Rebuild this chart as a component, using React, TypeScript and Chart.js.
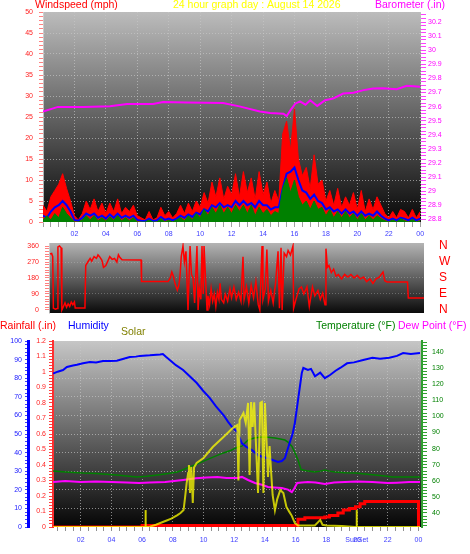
import React, { useEffect, useRef } from 'react';
import { Chart, registerables } from 'chart.js';

Chart.register(...registerables);

const FONT = '"Liberation Sans", Arial, Helvetica, sans-serif';

// ---------- texts ----------
const TITLE_WIND = 'Windspeed (mph)';
const TITLE_MAIN = '24 hour graph day : August 14 2026';
const TITLE_BARO = 'Barometer (.in)';
const LBL_RAIN = 'Rainfall (.in)';
const LBL_HUM = 'Humidity';
const LBL_SOLAR = 'Solar';
const LBL_TEMP = 'Temperature (°F)';
const LBL_DEW = 'Dew Point (°F)';
const LBL_SUNSET = 'SunSet';
const COMPASS = ['N', 'E', 'S', 'W', 'N']; // 0, 90, 180, 270, 360

// ---------- panel 1: wind (15 minute samples, 00:00 .. 24:00) ----------
const windTimes = Array.from({ length: 97 }, (_, i) => i * 0.25);
const windGust = [
  4, 2.5, 6, 7.5, 9, 11.5, 8, 5, 1.5, 0.5, 2, 5, 3, 5.5, 2.5, 4.5,
  2, 4.5, 2.5, 5.5, 2, 3.5, 2.5, 4, 1.5, 1, 0.5, 2.5, 0.5, 1, 3.5, 1.5,
  2.5, 1, 2, 4, 2, 4.5, 2.5, 5, 3.5, 7, 4.5, 9.5, 6, 10.5, 5.5, 8.5,
  6.5, 11.5, 6, 12, 7, 10.5, 5.5, 12, 6.5, 9.5, 4.5, 7.5, 5, 21, 24, 17,
  27, 15, 11, 13, 8, 16, 9, 10, 5, 7.5, 4, 8, 3.5, 6, 4, 7,
  3, 7.5, 2.5, 5.5, 3, 6, 4, 2, 1, 2.5, 1, 3, 2.5, 1, 3, 1,
  2.5,
];
const windAvg = [
  1.5, 1, 2.5, 3.5, 4, 5, 4, 2.5, 0.5, 0.3, 1, 2, 1.5, 2, 1, 1.5,
  0.8, 1.8, 1, 2, 1, 1.5, 1, 1.5, 0.5, 0.3, 0.2, 0.8, 0.2, 0.4, 1.2, 0.5,
  0.8, 0.4, 0.8, 1.5, 1, 1.8, 1.2, 2.2, 1.8, 3, 2.5, 4, 3.5, 4.5, 3.5, 4,
  3.5, 5, 4, 5, 4, 4.5, 3.5, 5, 4, 4, 3, 3.5, 3.5, 8, 11.5, 12,
  13, 10, 7.5, 7, 5.5, 6.5, 5, 4.5, 3, 3.5, 2.5, 3, 2, 3, 2, 2.5,
  1.5, 2.5, 1.5, 2, 1.5, 2.5, 1.5, 0.8, 0.4, 0.8, 0.4, 1, 0.8, 0.4, 1, 0.4,
  0.8,
];
const windLow = [
  0.5, 1.5, 0.5, 2, 1, 3.5, 2, 1, 0, 0, 0.5, 1.5, 0.5, 1.5, 0.3, 1,
  0.2, 1.2, 0.4, 1.5, 0.3, 1, 0.3, 1, 0, 0, 0, 0.5, 0, 0, 0.8, 0,
  0.4, 0, 0.5, 1, 0.3, 1.5, 0.5, 2, 1, 3, 1.5, 3.5, 2, 4, 2, 3.5,
  2, 4, 2.5, 4, 2, 4, 1.5, 3.5, 2, 3, 1.5, 2.5, 2, 8, 10.5, 7,
  10, 6, 4, 5, 3, 5, 3, 3.5, 1.5, 3, 1, 2.5, 1, 2.5, 1, 2,
  0.5, 2, 0.5, 1.5, 0.5, 1.5, 0.8, 0.3, 0, 0.5, 0, 0.8, 0.3, 0, 0.6, 0,
  0.3,
];
const baroTimes = [0, 0.95, 2.55, 4.26, 5.35, 7.0, 7.64, 9.15, 11.46, 12.5, 13.8, 14.45, 15.3, 15.5, 15.75, 16.05, 16.35, 16.7, 17.0, 17.45, 17.95, 18.45, 19.1, 19.75, 20.4, 21.0, 21.65, 22.5, 23.15, 24.0];
const baroValues = [29.566, 29.598, 29.598, 29.602, 29.619, 29.619, 29.633, 29.63, 29.626, 29.602, 29.566, 29.555, 29.55, 29.533, 29.575, 29.621, 29.638, 29.614, 29.645, 29.605, 29.645, 29.657, 29.693, 29.698, 29.717, 29.729, 29.73, 29.724, 29.748, 29.741];

// ---------- panel 2: wind direction [hour, degrees] ----------
const windDirReadings: [number, number][] = [
  [0.45, 315], [0.55, 318], [0.62, 300], [0.66, 10], [0.8, 5], [0.9, 8], [0.95, 355], [1.05, 360], [1.15, 350], [1.2, 0],
  [1.3, 20], [1.4, 40], [1.5, 15], [1.6, 35], [1.7, 20], [1.8, 45], [1.9, 30], [2.0, 45], [2.05, 11], [2.67, 11],
  [2.72, 250], [2.85, 270], [3.0, 290], [3.1, 275], [3.25, 300], [3.4, 290], [3.5, 310], [3.6, 300], [3.75, 280], [3.85, 240],
  [4.0, 250], [4.1, 270], [4.25, 300], [4.4, 285], [4.55, 290], [4.7, 270], [4.8, 310], [4.9, 295], [5.03, 282], [6.24, 281],
  [6.27, 160], [7.96, 160], [8.1, 180], [8.2, 214], [8.3, 190], [8.4, 150], [8.55, 112], [8.65, 140], [8.72, 190], [8.8, 300],
  [8.91, 360], [9.0, 270], [9.1, 330], [9.23, 0], [9.36, 360], [9.45, 200], [9.55, 180], [9.65, 40], [9.8, 360], [9.87, 0],
  [9.95, 120], [10.05, 60], [10.12, 360], [10.2, 90], [10.25, 360], [10.44, 0], [10.5, 80], [10.6, 30], [10.7, 120], [10.8, 50],
  [10.9, 90], [11.0, 20], [11.1, 100], [11.2, 60], [11.27, 150], [11.35, 60], [11.5, 40], [11.6, 90], [11.75, 50], [11.9, 120],
  [12.0, 70], [12.15, 130], [12.3, 60], [12.45, 100], [12.6, 50], [12.73, 300], [12.8, 60], [12.95, 130], [13.1, 40], [13.25, 140],
  [13.4, 70], [13.55, 160], [13.7, 30], [13.8, 0], [13.94, 360], [14.0, 60], [14.15, 120], [14.25, 340], [14.35, 50], [14.5, 110],
  [14.65, 40], [14.8, 150], [14.96, 330], [15.05, 10], [15.15, 350], [15.22, 0], [15.35, 320], [15.5, 300], [15.6, 335], [15.75, 310],
  [15.91, 360], [15.95, 10], [16.1, 60], [16.3, 120], [16.45, 130], [16.6, 90], [16.8, 130], [16.95, 20], [17.15, 130], [17.3, 80],
  [17.5, 110], [17.65, 60], [17.8, 95], [17.95, 30], [18.01, 345], [18.1, 240], [18.2, 250], [18.35, 210], [18.5, 230], [18.65, 190],
  [18.8, 200], [19.0, 175], [19.2, 200], [19.4, 185], [19.6, 200], [19.8, 180], [20.0, 195], [20.2, 175], [20.4, 185], [20.6, 160],
  [20.8, 175], [21.0, 150], [21.2, 175], [21.4, 185], [21.64, 214], [21.75, 165], [21.9, 158], [23.2, 158], [23.25, 68], [24.25, 68],
];

// ---------- panel 3: [hour, value] ----------
const humidityReadings: [number, number][] = [
  [0.2, 82.5], [0.5, 83.5], [0.85, 84.4], [1.1, 86], [1.5, 86.8], [1.75, 87.2], [2.15, 88], [2.6, 88.7], [3.0, 88.4], [3.45, 89.2],
  [3.9, 89.2], [4.35, 89.4], [4.8, 90.5], [5.2, 91.4], [5.6, 91.6], [5.86, 92], [6.5, 92.3], [7.17, 92.8], [7.35, 93], [7.55, 91.5],
  [7.8, 89.8], [8.2, 87], [8.67, 84.4], [9.1, 81], [9.56, 77.4], [10.0, 73], [10.4, 69.4], [10.8, 65], [11.3, 60.2], [11.6, 56.5],
  [11.85, 53.8], [12.2, 51], [12.5, 45], [12.8, 43], [13.15, 41.4], [13.55, 38.7], [13.9, 37.5], [14.2, 37], [14.5, 36], [14.85, 35],
  [15.1, 35.5], [15.3, 37], [15.45, 41], [15.6, 45], [15.8, 50], [15.95, 56], [16.15, 68], [16.4, 82.8], [16.5, 85.5], [16.8, 84.4],
  [17.0, 85], [17.26, 81], [17.6, 83], [17.9, 80], [18.24, 81.7], [18.6, 84], [18.9, 85.5], [19.35, 88], [19.8, 88.5], [20.4, 89.8],
  [21.0, 91], [21.5, 90.5], [22.1, 91], [22.6, 92], [23.0, 93.5], [23.5, 93], [24.1, 93.5],
];
const temperatureReadings: [number, number][] = [
  [0.2, 66], [1.0, 65.5], [2.15, 64.8], [3.0, 64.5], [4.35, 63.6], [5.0, 63], [5.65, 62.4], [6.3, 62.8], [7.0, 63.6], [7.7, 64.5],
  [8.3, 65.5], [8.7, 67], [9.1, 68.6], [9.6, 70.5], [10.2, 73], [10.7, 75], [11.3, 77.3], [11.8, 79], [12.25, 81], [12.5, 81.5],
  [12.7, 83.5], [12.9, 85.3], [13.3, 86.5], [13.8, 87.2], [14.2, 87], [14.65, 86.6], [15.0, 86], [15.3, 85.3], [15.5, 84], [15.75, 81.5],
  [15.95, 77.5], [16.15, 73], [16.35, 67], [16.8, 66], [17.25, 65.5], [17.6, 66], [17.9, 66.7], [18.2, 66], [18.55, 65.5], [19.2, 65],
  [19.9, 64.8], [20.5, 64.2], [21.2, 63.6], [21.8, 63], [22.3, 62.4], [23.2, 62.4], [24.1, 62.4],
];
const dewPointReadings: [number, number][] = [
  [0.2, 59.3], [1.0, 59.8], [2.0, 59.3], [3.0, 59.6], [4.0, 59.3], [5.0, 59], [5.8, 58.6], [6.5, 59], [7.5, 59.3], [8.67, 60.5],
  [9.5, 61.5], [10.2, 62], [10.9, 62.4], [11.5, 61.8], [12.2, 61.7], [12.5, 62.4], [12.9, 60.5], [13.35, 58.6], [13.8, 57.5], [14.2, 56.1],
  [14.6, 55.8], [15.1, 55.5], [15.5, 54.5], [15.75, 53], [15.9, 55], [16.1, 58.6], [16.4, 59], [16.8, 59.3], [17.3, 59], [17.9, 58],
  [18.5, 59], [19.2, 59.3], [20.0, 59.5], [21.0, 59.2], [22.0, 58.6], [22.6, 58.8], [23.4, 59.2], [24.1, 59.3],
];
// cumulative rainfall: each reading is the total from that hour on
const rainReadings: [number, number][] = [
  [0.2, 0], [6.0, 0.01], [16.15, 0.05], [16.6, 0.06], [17.9, 0.065], [18.2, 0.075], [18.75, 0.09], [19.1, 0.11],
  [19.5, 0.12], [19.9, 0.13], [20.2, 0.15], [20.5, 0.165], [24.0, 0],
];
const solarReadings: [number, number][] = [
  [0.2, 0], [6.3, 0], [6.5, 2], [6.9, 12], [7.35, 27], [7.6, 35], [7.9, 45], [8.3, 64], [8.5, 75], [8.7, 91],
  [8.8, 161], [8.9, 236], [9.0, 290], [9.05, 333], [9.12, 183], [9.2, 323], [9.3, 129], [9.38, 320], [9.55, 344], [10.0, 371],
  [10.6, 430], [11.3, 484], [11.9, 532], [12.2, 548], [12.27, 250], [12.35, 575], [12.6, 613], [12.75, 560], [12.9, 667], [13.0, 280],
  [13.1, 672], [13.2, 538], [13.3, 670], [13.55, 183], [13.7, 667], [13.8, 672], [13.9, 183], [14.0, 667], [14.1, 468], [14.2, 269],
  [14.3, 435], [14.4, 300], [14.5, 172], [14.65, 90], [14.8, 150], [15.0, 199], [15.2, 183], [15.4, 108], [15.6, 80], [15.75, 60],
  [15.95, 21], [16.15, 8], [17.25, 8], [17.45, 25], [17.6, 38], [17.75, 12], [18.0, 8], [19.0, 5], [19.9, 0], [24.1, 0],
];
const sunriseTime = 6.23;
const sunsetTime = 19.98;
const sunMarkerHeight = 91; // in solar units

// ---------- helpers ----------
const GRID = 'rgba(200,200,200,0.65)';
const NONE = 'rgba(0,0,0,0)';
function steps(from: number, to: number, step: number): number[] {
  const out: number[] = [];
  const n = Math.round((to - from) / step);
  for (let i = 0; i <= n; i++) out.push(+(from + i * step).toFixed(4));
  return out;
}
const near = (v: number, m: number) => Math.abs(v / m - Math.round(v / m)) < 1e-6;
const fixTicks = (vals: number[]) => (s: any) => {
  s.ticks = vals.map((v) => ({ value: v }));
};
const fixSize = (w?: number, h?: number) => (s: any) => {
  if (w !== undefined) s.width = w;
  if (h !== undefined) s.height = h;
  s.paddingLeft = 0; s.paddingRight = 0; s.paddingTop = 0; s.paddingBottom = 0;
};
const hourLabel = (v: any) => {
  const n = Number(v);
  return near(n, 2) && n > 0.1 ? String(Math.round(n) % 24).padStart(2, '0') : '';
};
const trim1 = (v: number) => String(parseFloat(v.toFixed(1)));
const pairs = (rows: [number, number][]) => rows.map(([x, y]) => ({ x, y }));
const tickFont = { family: FONT, size: 7 };

const gradientBg = (top: string, bottom: string) => ({
  id: 'gradientBg',
  beforeDraw(chart: any) {
    const { ctx, chartArea: a } = chart;
    if (!a) return;
    const g = ctx.createLinearGradient(0, a.top, 0, a.bottom);
    g.addColorStop(0, top);
    g.addColorStop(1, bottom);
    ctx.save();
    ctx.fillStyle = g;
    ctx.fillRect(a.left, a.top, a.right - a.left, a.bottom - a.top);
    ctx.restore();
  },
});

type Txt = { text: string; x: number; y: number; color: string; size: number };
const textPlugin = (items: Txt[]) => ({
  id: 'texts',
  afterDraw(chart: any) {
    const ctx = chart.ctx;
    ctx.save();
    items.forEach((t) => {
      ctx.font = `${t.size}px ${FONT}`;
      ctx.fillStyle = t.color;
      ctx.textAlign = 'left';
      ctx.textBaseline = 'alphabetic';
      ctx.fillText(t.text, t.x, t.y);
    });
    ctx.restore();
  },
});

const baseOptions = {
  animation: false,
  responsive: false,
  devicePixelRatio: 1,
  events: [],
  plugins: { legend: { display: false }, tooltip: { enabled: false }, title: { display: false } },
  elements: { point: { radius: 0 }, line: { tension: 0 } },
};

function windConfig(): any {
  const mk = (vals: number[]) => windTimes.map((t, i) => ({ x: t, y: vals[i] }));
  return {
    type: 'line',
    data: {
      datasets: [
        { data: mk(windLow), borderColor: '#008000', backgroundColor: '#008000', fill: 'origin', borderWidth: 1, yAxisID: 'yWind' },
        { data: mk(windAvg), borderColor: '#0000ff', borderWidth: 2, fill: false, yAxisID: 'yWind' },
        { data: mk(windGust), borderColor: '#ff0000', backgroundColor: '#ff0000', fill: 'origin', borderWidth: 1, yAxisID: 'yWind' },
        { data: baroTimes.map((t, i) => ({ x: t, y: baroValues[i] })), borderColor: '#ff00ff', borderWidth: 2, fill: false, yAxisID: 'yBaro' },
      ],
    },
    options: {
      ...baseOptions,
      layout: { padding: { top: 12, left: 0, right: 0, bottom: 0 } },
      scales: {
        x: {
          type: 'linear', min: 0, max: 24.05,
          afterBuildTicks: fixTicks(steps(0, 24, 0.5)),
          ticks: { autoSkip: false, maxRotation: 0, minRotation: 0, color: '#3c3cff', font: tickFont, padding: 3, callback: hourLabel },
          grid: { color: (c: any) => (c.tick && near(c.tick.value, 2) && c.tick.value > 0.1 ? GRID : NONE), tickColor: '#a0a0a0', tickLength: 5 },
          border: { display: false, dash: [1, 2] },
          afterFit: fixSize(undefined, 18),
        },
        yWind: {
          position: 'left', min: 0, max: 50,
          afterBuildTicks: fixTicks(steps(0, 50, 1)),
          ticks: { autoSkip: false, color: '#ff2020', font: tickFont, padding: 6, callback: (v: any) => (near(Number(v), 5) ? String(v) : '') },
          grid: { color: (c: any) => (c.tick && near(c.tick.value, 5) && c.tick.value > 0 && c.tick.value < 50 ? GRID : NONE), tickColor: '#ff8080', tickLength: 4 },
          border: { display: true, color: 'rgba(210,210,210,0.8)', dash: [1, 2] },
          afterFit: fixSize(43),
        },
        yBaro: {
          position: 'right', min: 28.782, max: 30.271,
          afterBuildTicks: fixTicks(steps(28.8, 30.25, 0.025)),
          ticks: { autoSkip: false, color: '#ff00ff', font: tickFont, padding: 2, callback: (v: any, i: number) => (i % 4 === 0 ? trim1(Number(v)) : '') },
          grid: { drawOnChartArea: false, tickColor: '#ff40ff', tickLength: 5 },
          border: { display: false },
          afterFit: fixSize(49),
        },
      },
    },
    plugins: [
      gradientBg('#bcbcbc', '#080808'),
      textPlugin([
        { text: TITLE_WIND, x: 35, y: 8, color: '#ff0000', size: 10.5 },
        { text: TITLE_MAIN, x: 173, y: 8, color: '#ffff00', size: 10.5 },
        { text: TITLE_BARO, x: 375, y: 8, color: '#ff00ff', size: 10.5 },
      ]),
    ],
  };
}

function dirConfig(): any {
  return {
    type: 'line',
    data: {
      datasets: [
        { data: pairs(windDirReadings), borderColor: '#ff0000', borderWidth: 1.5, fill: false, yAxisID: 'yDir' },
      ],
    },
    options: {
      ...baseOptions,
      layout: { padding: { top: 3, left: 0, right: 0, bottom: 5 } },
      scales: {
        x: { type: 'linear', display: false, min: 0.382, max: 24.25 },
        yDir: {
          position: 'left', min: -16.9, max: 376.9,
          afterBuildTicks: fixTicks(steps(0, 360, 15)),
          ticks: { autoSkip: false, color: '#ff2020', font: tickFont, padding: 6, callback: (v: any) => (near(Number(v), 90) ? String(v) : '') },
          grid: { color: (c: any) => (c.tick && near(c.tick.value, 90) && c.tick.value > 0 && c.tick.value < 360 ? 'rgba(200,200,200,0.35)' : NONE), tickColor: '#ff8080', tickLength: 4 },
          border: { display: true, color: 'rgba(210,210,210,0.8)', dash: [1, 2] },
          afterFit: fixSize(49),
        },
        yCompass: {
          position: 'right', min: -16.9, max: 376.9,
          afterBuildTicks: fixTicks([0, 90, 180, 270, 360]),
          ticks: { autoSkip: false, color: '#ff0000', font: { family: FONT, size: 12 }, padding: 15, callback: (v: any) => COMPASS[Math.round(Number(v) / 90)] },
          grid: { drawOnChartArea: false, drawTicks: false },
          border: { display: false },
          afterFit: fixSize(46),
        },
      },
    },
    plugins: [gradientBg('#b4b4b4', '#0a0a0a')],
  };
}

function weatherConfig(): any {
  const sunLabel = {
    id: 'sunLabel',
    afterDraw(chart: any) {
      const ctx = chart.ctx;
      const xs = chart.scales.x;
      ctx.save();
      ctx.font = `7px ${FONT}`;
      ctx.fillStyle = '#3c3cff';
      ctx.textAlign = 'center';
      ctx.textBaseline = 'middle';
      ctx.fillText(LBL_SUNSET, xs.getPixelForValue(sunsetTime), chart.chartArea.bottom + 13.5);
      const hs = chart.scales.yHum;
      ctx.fillStyle = '#0000ff';
      ctx.fillRect(hs.right - 3, hs.top - 1, 3, hs.bottom - hs.top + 2);
      ctx.restore();
    },
  };
  return {
    type: 'line',
    data: {
      datasets: [
        { data: [{ x: sunriseTime, y: 0 }, { x: sunriseTime, y: sunMarkerHeight }], borderColor: 'rgba(230,230,0,0.9)', borderWidth: 2, yAxisID: 'ySolar' },
        { data: [{ x: sunsetTime, y: 0 }, { x: sunsetTime, y: sunMarkerHeight }], borderColor: 'rgba(230,230,0,0.9)', borderWidth: 2, yAxisID: 'ySolar' },
        { data: pairs(solarReadings), borderColor: 'rgba(255,255,0,0.75)', borderWidth: 2, yAxisID: 'ySolar' },
        { data: pairs(humidityReadings), borderColor: '#0000ff', borderWidth: 2, yAxisID: 'yHum' },
        { data: pairs(temperatureReadings), borderColor: '#008000', borderWidth: 1.5, yAxisID: 'yTemp' },
        { data: pairs(dewPointReadings), borderColor: '#ff00ff', borderWidth: 2, yAxisID: 'yTemp' },
        { data: pairs(rainReadings), borderColor: '#ff0000', borderWidth: 3, stepped: 'before', yAxisID: 'yRain' },
      ],
    },
    options: {
      ...baseOptions,
      layout: { padding: { top: 23, left: 0, right: 0, bottom: 0 } },
      scales: {
        x: {
          type: 'linear', min: 0.195, max: 24.23,
          afterBuildTicks: fixTicks(steps(0.5, 24, 0.5)),
          ticks: { autoSkip: false, maxRotation: 0, minRotation: 0, color: '#3c3cff', font: tickFont, padding: 5, callback: hourLabel },
          grid: { color: (c: any) => (c.tick && near(c.tick.value, 2) ? GRID : NONE), tickColor: '#909090', tickLength: 4 },
          border: { display: false, dash: [1, 2] },
          afterFit: fixSize(undefined, 27),
        },
        yHum: {
          position: 'left', weight: 2, min: 0, max: 100,
          afterBuildTicks: fixTicks(steps(0, 100, 2)),
          ticks: { autoSkip: false, color: '#2020ff', font: tickFont, padding: 3, callback: (v: any) => (near(Number(v), 10) ? String(v) : '') },
          grid: { color: (c: any) => (c.tick && near(c.tick.value, 10) && c.tick.value > 0 && c.tick.value < 100 ? GRID : NONE), tickColor: '#4040ff', tickLength: 5 },
          border: { display: false, dash: [1, 2] },
          afterFit: fixSize(30),
        },
        yRain: {
          position: 'left', weight: 1, min: 0, max: 1.2,
          afterBuildTicks: fixTicks(steps(0, 1.2, 0.02)),
          ticks: { autoSkip: false, color: '#ff2020', font: tickFont, padding: 3, callback: (v: any) => (near(Number(v), 0.1) ? trim1(Number(v)) : '') },
          grid: { drawOnChartArea: false, tickColor: '#ff4040', tickLength: 4 },
          border: { display: true, color: '#ff3030', width: 2, dash: [2, 1] },
          afterFit: fixSize(23),
        },
        yTemp: {
          position: 'right', min: 31.3, max: 146.8,
          afterBuildTicks: fixTicks(steps(32, 146, 2)),
          ticks: { autoSkip: false, color: '#008000', font: tickFont, padding: 5, callback: (v: any) => { const n = Number(v); return near(n, 10) && n >= 40 && n <= 140 ? String(n) : ''; } },
          grid: { drawOnChartArea: false, tickColor: '#30a030', tickLength: 5 },
          border: { display: true, color: '#30a030', width: 2, dash: [2, 2] },
          afterFit: fixSize(48),
        },
        ySolar: { display: false, min: 0, max: 1000 },
      },
    },
    plugins: [
      gradientBg('#c6c6c6', '#050505'),
      sunLabel,
      textPlugin([
        { text: LBL_RAIN, x: 0, y: 11, color: '#ff0000', size: 10.5 },
        { text: LBL_HUM, x: 68, y: 11, color: '#0000ff', size: 10.5 },
        { text: LBL_SOLAR, x: 121, y: 17, color: '#808000', size: 10.5 },
        { text: LBL_TEMP, x: 316, y: 11, color: '#008000', size: 10.5 },
        { text: LBL_DEW, x: 398, y: 11, color: '#ff00ff', size: 10.5 },
      ]),
    ],
  };
}

export default function App() {
  const c1 = useRef<HTMLCanvasElement>(null);
  const c2 = useRef<HTMLCanvasElement>(null);
  const c3 = useRef<HTMLCanvasElement>(null);

  useEffect(() => {
    const charts = [
      new Chart(c1.current as HTMLCanvasElement, windConfig()),
      new Chart(c2.current as HTMLCanvasElement, dirConfig()),
      new Chart(c3.current as HTMLCanvasElement, weatherConfig()),
    ];
    return () => charts.forEach((c) => c.destroy());
  }, []);

  return (
    <div style={{ position: 'absolute', left: 0, top: 0, width: 470, height: 554, background: '#ffffff', overflow: 'hidden' }}>
      <canvas ref={c1} width={470} height={240} style={{ position: 'absolute', left: 0, top: 0, width: 470, height: 240 }} />
      <canvas ref={c2} width={470} height={78} style={{ position: 'absolute', left: 0, top: 240, width: 470, height: 78 }} />
      <canvas ref={c3} width={470} height={236} style={{ position: 'absolute', left: 0, top: 318, width: 470, height: 236 }} />
    </div>
  );
}
